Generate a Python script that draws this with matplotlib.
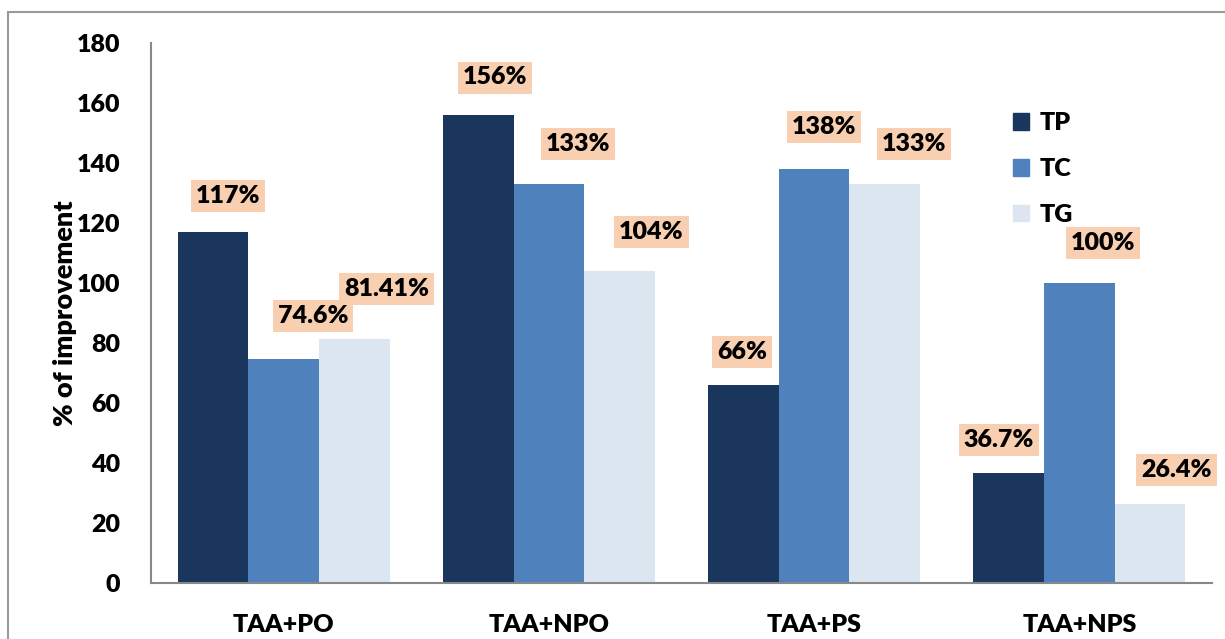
import matplotlib.pyplot as plt
import numpy as np
from matplotlib.patches import Rectangle

plt.rcParams['font.family'] = ['Lato', 'DejaVu Sans']
plt.rcParams['font.weight'] = 'heavy'

categories = ['TAA+PO', 'TAA+NPO', 'TAA+PS', 'TAA+NPS']
series = ['TP', 'TC', 'TG']
tp = [117, 156, 66, 36.7]
tc = [74.6, 133, 138, 100]
tg = [81.41, 104, 133, 26.4]
labels = [
    ['117%', '156%', '66%', '36.7%'],
    ['74.6%', '133%', '138%', '100%'],
    ['81.41%', '104%', '133%', '26.4%'],
]

colors = ['#1A365D', '#4F81BD', '#DCE6F0']
label_bg = '#F8CFB1'
fs = 18

# label offsets from the bar top (points)
label_dx = [[11, 12, -1, -7], [21, 21, 7, 17], [23, 23, 21, 19]]
label_dy = [[26, 27, 24, 24], [31, 29, 30, 29], [36, 28, 29, 24]]

fig = plt.figure(figsize=(12.25, 6.39), dpi=100)
ax = fig.add_axes([151 / 1225, 56 / 639, (1212 - 151) / 1225, (596 - 56) / 639])

# outer chart frame
fig.patches.append(Rectangle((8 / 1225, -0.05), 1.2, (639 - 12) / 639 + 0.05,
                             transform=fig.transFigure, fill=False,
                             edgecolor='#999999', linewidth=1.5))

x = np.arange(len(categories))
width = 0.8 / 3
values = [tp, tc, tg]
for i, (name, vals) in enumerate(zip(series, values)):
    pos = x + (i - 1) * width
    ax.bar(pos, vals, width, color=colors[i], label=name)
    for j, v in enumerate(vals):
        ax.annotate(labels[i][j], (pos[j], v), xytext=(label_dx[i][j], label_dy[i][j]),
                    textcoords='offset points', ha='center', va='center',
                    fontsize=fs, fontweight='heavy', color='black',
                    bbox=dict(boxstyle='square,pad=0.2', fc=label_bg, ec='none'))

ax.set_xlim(-0.5, 3.5)
ax.set_ylim(0, 180)
ax.set_yticks(np.arange(0, 181, 20))
ax.set_xticks(x)
ax.set_xticklabels(categories)
ax.tick_params(axis='both', length=0, labelsize=fs)
ax.tick_params(axis='y', pad=22)
ax.tick_params(axis='x', pad=22)
for lbl in ax.get_xticklabels() + ax.get_yticklabels():
    lbl.set_fontweight('heavy')

ax.set_ylabel('% of improvement', fontsize=19.5, fontweight='heavy', labelpad=0)

for side in ['top', 'right']:
    ax.spines[side].set_visible(False)
for side in ['left', 'bottom']:
    ax.spines[side].set_color('#888888')
    ax.spines[side].set_linewidth(1.5)

handles = [Rectangle((0, 0), 1, 1, color=c) for c in colors]
ax.legend(handles, series, loc='center left', bbox_to_anchor=(990 / 1225, 1 - 169 / 639),
          bbox_transform=fig.transFigure, frameon=False,
          handlelength=0.65, handleheight=0.65, handletextpad=0.45, labelspacing=0.95,
          prop={'weight': 'heavy', 'size': fs})

fig.savefig('out.png', dpi=100)
